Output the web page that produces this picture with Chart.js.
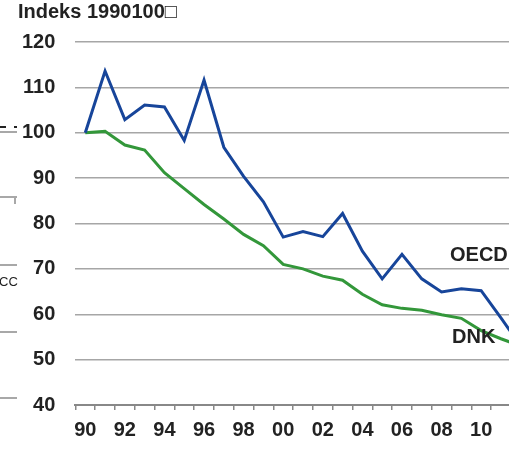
<!DOCTYPE html>
<html lang="da">
<head>
<meta charset="UTF-8">
<title>Indeks 1990100</title>
<style>
  body { margin: 0; padding: 0; width: 509px; height: 450px; overflow: hidden; background: #fff; font-family: "Liberation Sans", Arial, sans-serif; }
  .wrap { position: relative; width: 540px; height: 450px; }
  canvas { position: absolute; left: 0; top: 0; }
  .title { position: absolute; left: 18px; top: 0px; font-weight: bold; font-size: 20px; color: #222; }
  .lbl { position: absolute; font-weight: bold; font-size: 20px; color: #222; line-height: 20px; }
  .edge { position: absolute; left: 0; width: 17px; height: 2px; background: #a8a8a8; }
  .cc { position: absolute; left: -1px; top: 274px; font-size: 13px; color: #222; }
</style>
</head>
<body>
<div class="wrap">
  <canvas id="chart" width="540" height="450"></canvas>
  <div class="title">Indeks 1990100&#9633;</div>
  <div class="lbl" style="left:450px; top:244px;">OECD</div>
  <div class="lbl" style="left:452px; top:326px;">DNK</div>
  <!-- bits of the neighbouring chart cut off at the left edge -->
  <div class="edge" style="top:131px;"></div>
  <div class="edge" style="top:126px; width:6px; background:#222;"></div>
  <div class="edge" style="top:126px; left:14px; width:3px; background:#222;"></div>
  <div class="edge" style="top:196px;"></div>
  <div class="edge" style="top:196px; left:14px; width:2px; height:8px;"></div>
  <div class="edge" style="top:264px;"></div>
  <div class="cc">CC</div>
  <div class="edge" style="top:331px;"></div>
  <div class="edge" style="top:397px;"></div>
</div>

<script src="https://cdn.jsdelivr.net/npm/chart.js"></script>
<script>
  const years = ['90','91','92','93','94','95','96','97','98','99','00','01','02','03','04','05','06','07','08','09','10','11','12'];
  const oecd = [100, 113.6, 102.9, 106.1, 105.7, 98.3, 111.6, 96.8, 90.4, 84.8, 77.0, 78.2, 77.1, 82.2, 73.9, 67.8, 73.2, 67.8, 64.9, 65.6, 65.2, 59.2, 53.0];
  const dnk = [100, 100.3, 97.3, 96.2, 91.2, 87.7, 84.2, 81.0, 77.6, 75.1, 71.0, 70.0, 68.4, 67.5, 64.4, 62.1, 61.3, 60.9, 59.9, 59.1, 56.4, 54.6, 53.0];

  const tickFont = { family: '"Liberation Sans", Arial, sans-serif', size: 20, weight: 'bold' };

  new Chart(document.getElementById('chart'), {
    type: 'line',
    data: {
      labels: years,
      datasets: [
        { label: 'OECD', data: oecd, borderColor: '#17459a', borderWidth: 3, pointRadius: 0, tension: 0 },
        { label: 'DNK', data: dnk, borderColor: '#33973a', borderWidth: 3, pointRadius: 0, tension: 0 }
      ]
    },
    options: {
      responsive: false,
      animation: false,
      layout: { padding: { left: 2, top: 42, right: 6, bottom: 0 } },
      plugins: { legend: { display: false }, tooltip: { enabled: false } },
      scales: {
        x: {
          offset: true,
          grid: { drawOnChartArea: false, drawTicks: true, tickLength: 5, color: '#888', lineWidth: 1.5, offset: true },
          border: { display: true, color: '#888', width: 2 },
          ticks: {
            autoSkip: false, maxRotation: 0, padding: 8, color: '#222', font: tickFont,
            callback: function (v, i) { return i % 2 === 0 ? this.getLabelForValue(v) : ''; }
          }
        },
        y: {
          min: 40, max: 120,
          grid: { color: '#a6a6a6', lineWidth: 1.5, drawTicks: false },
          border: { display: false },
          ticks: { stepSize: 10, padding: 20, color: '#222', font: tickFont }
        }
      }
    }
  });
</script>
</body>
</html>
